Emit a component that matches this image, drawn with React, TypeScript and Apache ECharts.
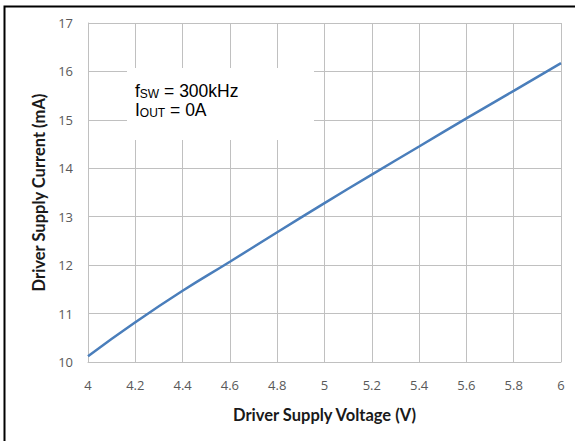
import React, { useEffect, useRef } from "react";
import * as echarts from "echarts";

const voltage = [4.0, 4.2, 4.4, 4.6, 4.8, 5.0, 5.2, 5.4, 5.6, 5.8, 6.0];
const current = [10.12, 10.82, 11.47, 12.07, 12.68, 13.28, 13.87, 14.45, 15.03, 15.6, 16.17];
const xTicks = ["4", "4.2", "4.4", "4.6", "4.8", "5", "5.2", "5.4", "5.6", "5.8", "6"];

export default function App() {
  const ref = useRef<HTMLDivElement>(null);
  useEffect(() => {
    if (!ref.current) return;
    const chart = echarts.init(ref.current, null, { renderer: "svg" });
    const font = "'Open Sans', 'Noto Sans', sans-serif";
    const titleFont = "Lato, 'Open Sans', sans-serif";
    chart.setOption({
      animation: false,
      backgroundColor: "#ffffff",
      grid: { left: 88, right: 14, top: 23, bottom: 79 },
      xAxis: {
        type: "value",
        min: 4,
        max: 6,
        interval: 0.2,
        name: "Driver Supply Voltage (V)",
        nameLocation: "middle",
        nameGap: 44,
        nameTextStyle: { fontFamily: titleFont, fontWeight: "bold", fontSize: 16.5, color: "#1a1a1a" },
        axisLine: { show: true, lineStyle: { color: "#c0c0c0", width: 1 } },
        axisTick: { show: false },
        axisLabel: {
          margin: 16,
          fontFamily: font,
          fontSize: 13,
          color: "#595959",
          formatter: (v: number) => {
            const i = Math.round((v - 4) / 0.2);
            return xTicks[i] ?? "";
          },
        },
        splitLine: { show: true, lineStyle: { color: "#c0c0c0", width: 1 } },
      },
      yAxis: {
        type: "value",
        min: 10,
        max: 17,
        interval: 1,
        name: "Driver Supply Current (mA)",
        nameLocation: "middle",
        nameGap: 39,
        nameTextStyle: { fontFamily: titleFont, fontWeight: "bold", fontSize: 16.5, color: "#1a1a1a" },
        axisLine: { show: true, lineStyle: { color: "#c0c0c0", width: 1 } },
        axisTick: { show: false },
        axisLabel: { margin: 15, fontFamily: font, fontSize: 13, color: "#595959" },
        splitLine: { show: true, lineStyle: { color: "#c0c0c0", width: 1 } },
      },
      series: [
        {
          type: "line",
          data: voltage.map((v, i) => [v, current[i]]),
          showSymbol: false,
          smooth: true,
          lineStyle: { color: "#4a7ebb", width: 2.5 },
          z: 3,
        },
      ],
      graphic: [
        {
          type: "rect",
          shape: { x: 4.5, y: 6.5, width: 700, height: 600 },
          style: { fill: "none", stroke: "#000", lineWidth: 2 },
          z: 100,
        },
        {
          type: "rect",
          shape: { x: 127, y: 68, width: 187, height: 72 },
          style: { fill: "#ffffff" },
          z: 50,
        },
        {
          type: "text",
          x: 135,
          y: 81,
          z: 60,
          style: {
            text: "{m|f}{s|SW}{m| = 300kHz}\n{m|I}{s|OUT}{m| = 0A}",
            rich: {
              m: { fontFamily: "'Liberation Sans', Arial, sans-serif", fontSize: 17.5, lineHeight: 19, color: "#000", verticalAlign: "bottom" },
              s: { fontFamily: "'Liberation Sans', Arial, sans-serif", fontSize: 12, lineHeight: 8, color: "#000", verticalAlign: "bottom" },
            },
          },
        },
      ],
    });
    return () => chart.dispose();
  }, []);
  return <div ref={ref} style={{ width: 575, height: 441, position: "absolute", left: 0, top: 0 }} />;
}
